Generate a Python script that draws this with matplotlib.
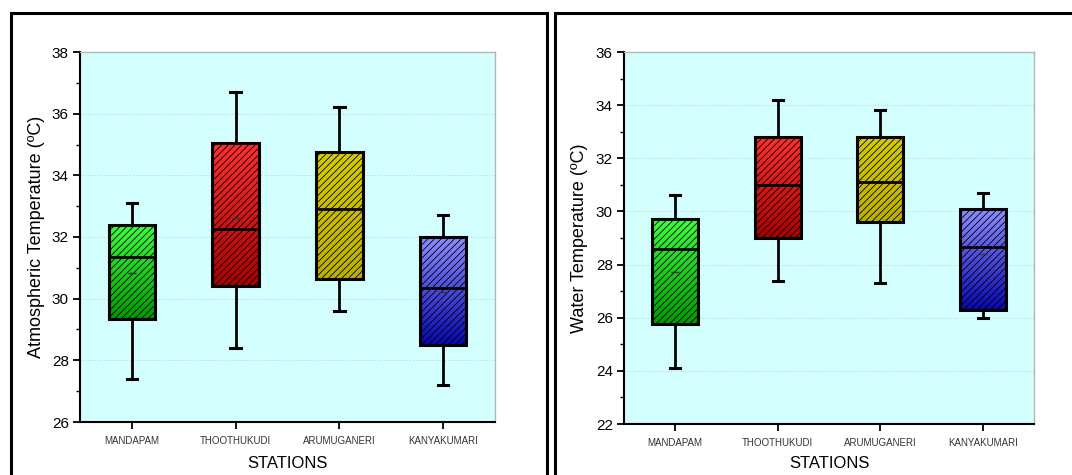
import numpy as np
import matplotlib
matplotlib.use("Agg")
import matplotlib.pyplot as plt
from matplotlib.patches import Rectangle
from matplotlib.ticker import MultipleLocator
from matplotlib.colors import LinearSegmentedColormap

plt.rcParams['font.family'] = ['Liberation Sans', 'DejaVu Sans']
plt.rcParams['hatch.linewidth'] = 0.6

stations = ['MANDAPAM', 'THOOTHUKUDI', 'ARUMUGANERI', 'KANYAKUMARI']

# atmospheric temperature: whisker low, Q1, median, Q3, whisker high, mean
atm_low = [27.4, 28.4, 29.6, 27.2]
atm_q1 = [29.35, 30.4, 30.65, 28.5]
atm_med = [31.35, 32.25, 32.9, 30.35]
atm_q3 = [32.4, 35.05, 34.75, 32.0]
atm_high = [33.1, 36.7, 36.2, 32.7]
atm_mean = [30.82, 32.6, 32.87, 30.22]

# water temperature
wat_low = [24.1, 27.4, 27.3, 26.0]
wat_q1 = [25.75, 29.0, 29.6, 26.3]
wat_med = [28.6, 31.0, 31.1, 28.65]
wat_q3 = [29.7, 32.8, 32.8, 30.1]
wat_high = [30.6, 34.2, 33.8, 30.7]
wat_mean = [27.72, 31.0, 31.1, 28.38]

# gradient colours (top, bottom) per station
grad_top = ['#3cff3c', '#ff3030', '#d6cc00', '#8c8cff']
grad_bot = ['#009a00', '#aa0000', '#bcb000', '#0808b0']

W, H = 1072, 475
fig = plt.figure(figsize=(W / 100, H / 100), dpi=100)

# outer frames
fig.patches.append(Rectangle((10.5 / W, -0.1), 536.5 / W, 1.1 - 13 / H,
                             transform=fig.transFigure, fill=False,
                             ec='black', lw=2.2))
fig.patches.append(Rectangle((555 / W, -0.1), 1.0, 1.1 - 13 / H,
                             transform=fig.transFigure, fill=False,
                             ec='black', lw=2.2))


def draw_panel(rect, low, q1, med, q3, high, mean, ylim, ylabel, lab_x, lab_y):
    ax = fig.add_axes(rect)
    ax.set_facecolor('#d4ffff')
    stats = []
    for i in range(len(stations)):
        stats.append(dict(whislo=low[i], q1=q1[i], med=med[i], q3=q3[i],
                          whishi=high[i], mean=mean[i], fliers=[], label=stations[i]))
    pos = np.arange(1, len(stations) + 1)
    bp = ax.bxp(stats, positions=pos, widths=0.45, patch_artist=True,
                showmeans=False, showfliers=False, capwidths=0.1,
                boxprops=dict(lw=2.2, edgecolor='black', facecolor='none'),
                medianprops=dict(color='black', lw=2.0),
                whiskerprops=dict(color='black', lw=2.0),
                capprops=dict(color='black', lw=2.2))
    for i, box in enumerate(bp['boxes']):
        ext = box.get_path().get_extents()
        cmap = LinearSegmentedColormap.from_list('g', [grad_bot[i], grad_top[i]])
        grad = np.linspace(0, 1, 64).reshape(-1, 1)
        im = ax.imshow(grad, cmap=cmap, origin='lower', aspect='auto',
                       extent=[ext.x0, ext.x1, ext.y0, ext.y1], zorder=1.8)
        im.set_clip_path(box)
        box.set_hatch('/////')
        box.set_zorder(2)
    for m in bp['medians']:
        m.set_zorder(2.5)
    ax.plot(pos, mean, ls='none', marker='_', ms=6, mew=1.0, color='#333333', zorder=2.2)

    ax.set_xlim(0.5, 4.5)
    ax.set_ylim(*ylim)
    ax.yaxis.set_major_locator(MultipleLocator(2))
    ax.yaxis.set_minor_locator(MultipleLocator(1))
    ax.grid(axis='y', which='major', color='#c8c8c8', lw=0.7, ls=(0, (1, 2)), zorder=0)
    ax.set_axisbelow(True)
    for s in ['top', 'right']:
        ax.spines[s].set_color('#b4b4b4')
        ax.spines[s].set_linewidth(1.0)
    for s in ['left', 'bottom']:
        ax.spines[s].set_color('black')
        ax.spines[s].set_linewidth(1.5)
    ax.tick_params(axis='y', which='major', direction='out', length=5, width=1.3,
                   labelsize=11, pad=3)
    ax.tick_params(axis='y', which='minor', direction='out', length=3, width=1.0)
    ax.tick_params(axis='x', which='major', direction='out', length=5, width=1.3,
                   labelsize=7, labelcolor='#333333', pad=5)
    ax.set_xticks(pos)
    ax.set_xticklabels(stations)
    ax.set_ylabel(ylabel, fontsize=13)
    ax.yaxis.set_label_coords(lab_x, 0.5)
    ax.set_xlabel('STATIONS', fontsize=12)
    ax.xaxis.set_label_coords(0.5, lab_y)
    return ax


draw_panel([80 / W, 1 - 422 / H, 415 / W, 370 / H],
           atm_low, atm_q1, atm_med, atm_q3, atm_high, atm_mean,
           (26, 38), 'Atmospheric Temperature (ºC)', -0.084, -0.092)
draw_panel([624 / W, 1 - 424 / H, 410 / W, 372 / H],
           wat_low, wat_q1, wat_med, wat_q3, wat_high, wat_mean,
           (22, 36), 'Water Temperature (ºC)', -0.088, -0.086)

fig.savefig('out.png', dpi=100)
